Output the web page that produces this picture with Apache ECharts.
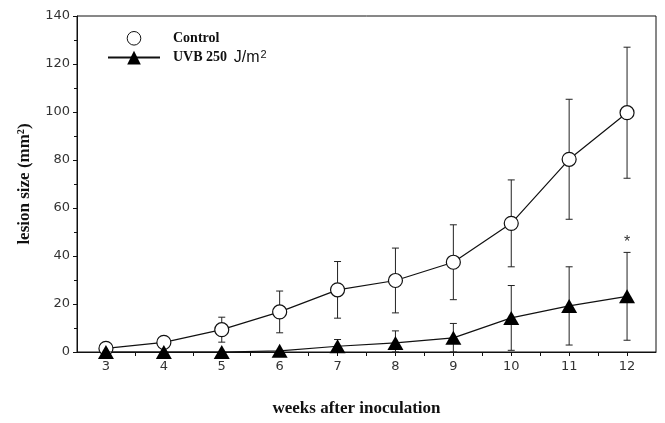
<!DOCTYPE html>
<html>
<head>
<meta charset="utf-8">
<script src="https://cdn.jsdelivr.net/npm/echarts@6/dist/echarts.min.js"></script>
<style>
html,body{margin:0;padding:0;background:#fff;}
#chart{width:665px;height:423px;}
</style>
</head>
<body>
<div id="chart"></div>
<script>
// ---- data ----
var weeks = [3, 4, 5, 6, 7, 8, 9, 10, 11, 12];
var controlMean = [1.5, 4, 9.3, 16.7, 25.9, 29.8, 37.4, 53.6, 80.3, 99.7];
var controlErr  = [0, 0, 5.2, 8.7, 11.8, 13.5, 15.6, 18.1, 25, 27.3];
var uvbMean = [0, 0, 0, 0.5, 2.4, 3.8, 5.9, 14.2, 19.2, 23.2];
var uvbErr  = [0, 0, 0, 0, 2.8, 5, 6, 13.5, 16.3, 18.3];
var uvbNote = ['', '', '', '', '', '', '', '', '', '*'];
var yTicks = [0, 20, 40, 60, 80, 100, 120, 140];
var seriesNames = ['Control', 'UVB 250 J/m²'];

var chart = echarts.init(document.getElementById('chart'), null, {renderer: 'canvas'});

function pairs(x, y) { return x.map(function (v, i) { return [v, y[i]]; }); }
function errData(x, m, e, notes) {
  return x.map(function (v, i) {
    return [v, m[i] - e[i], m[i] + e[i], notes ? notes[i] : ''];
  });
}
function errRender(params, api) {
  var x = api.value(0);
  var lo = api.value(1), hi = api.value(2);
  var note = api.value(3);
  var children = [];
  if (hi > lo) {
    var pLo = api.coord([x, Math.max(lo, 0)]);
    var pHi = api.coord([x, hi]);
    var style = {stroke: '#222', lineWidth: 1};
    children.push({type: 'line', shape: {x1: pLo[0], y1: pLo[1], x2: pHi[0], y2: pHi[1]}, style: style});
    children.push({type: 'line', shape: {x1: pHi[0] - 3.5, y1: pHi[1], x2: pHi[0] + 3.5, y2: pHi[1]}, style: style});
    children.push({type: 'line', shape: {x1: pLo[0] - 3.5, y1: pLo[1], x2: pLo[0] + 3.5, y2: pLo[1]}, style: style});
    if (note) {
      children.push({type: 'text', x: pHi[0], y: pHi[1] - 2,
        style: {text: note, fill: '#333', font: '16px "Liberation Sans", Arial', align: 'center', verticalAlign: 'bottom'}});
    }
  }
  return {type: 'group', children: children};
}

var tickFont = {fontFamily: '"DejaVu Sans", sans-serif', fontSize: 13, color: '#333'};

chart.setOption({
  animation: false,
  backgroundColor: '#fff',
  grid: {left: 77, right: 9, top: 16, bottom: 71, show: true, borderColor: '#111', borderWidth: 1, containLabel: false},
  legend: {
    orient: 'vertical', left: 102, top: 26, itemWidth: 52, itemHeight: 17, itemGap: 4,
    data: [
      {name: seriesNames[0], lineStyle: {width: 0}, itemStyle: {color: '#fff', borderColor: '#111', borderWidth: 1}},
      {name: seriesNames[1]}
    ],
    textStyle: {
      padding: [0, 0, 0, 8],
      rich: {
        b: {fontFamily: '"Liberation Serif", "Times New Roman", serif', fontWeight: 'bold', fontSize: 14, color: '#111'},
        s: {fontFamily: '"Liberation Sans", Arial, sans-serif', fontSize: 16, color: '#111'},
        sup: {fontFamily: '"Liberation Sans", Arial, sans-serif', fontSize: 11, color: '#111', verticalAlign: 'top', lineHeight: 10, padding: [0, 0, 6, 1]}
      }
    },
    formatter: function (name) {
      if (name === seriesNames[0]) return '{b|Control}';
      return '{b|UVB 250}  {s|J/m}{sup|2}';
    }
  },
  xAxis: {
    type: 'value', min: 2.5, max: 12.5, interval: 0.5,
    name: 'weeks after inoculation', nameLocation: 'middle', nameGap: 48,
    nameTextStyle: {fontFamily: '"Liberation Serif", "Times New Roman", serif', fontWeight: 'bold', fontSize: 17, color: '#111', padding: [0, 20, 0, 0]},
    axisLine: {lineStyle: {color: '#111', width: 1}},
    axisTick: {show: true, inside: false, length: 4, lineStyle: {color: '#111'}},
    axisLabel: Object.assign({margin: 8, showMinLabel: false, showMaxLabel: false,
      formatter: function (v) { return weeks.indexOf(v) >= 0 ? String(v) : ''; }}, tickFont),
    splitLine: {show: false}
  },
  yAxis: {
    type: 'value', min: yTicks[0], max: yTicks[yTicks.length - 1], interval: yTicks[1] - yTicks[0],
    name: 'lesion size (mm²)', nameLocation: 'middle', nameGap: 44, nameRotate: 90,
    nameTextStyle: {fontFamily: '"Liberation Serif", "Times New Roman", serif', fontWeight: 'bold', fontSize: 17, color: '#111'},
    axisLine: {show: true, lineStyle: {color: '#111', width: 1}},
    axisTick: {show: true, inside: false, length: 4, lineStyle: {color: '#111'}},
    minorTick: {show: true, splitNumber: 2, length: 3, lineStyle: {color: '#111'}},
    axisLabel: Object.assign({margin: 7}, tickFont),
    splitLine: {show: false}
  },
  series: [
    {
      type: 'custom', name: 'ctrlErr', renderItem: errRender, z: 1, silent: true,
      data: errData(weeks, controlMean, controlErr)
    },
    {
      type: 'custom', name: 'uvbErr', renderItem: errRender, z: 1, silent: true,
      data: errData(weeks, uvbMean, uvbErr, uvbNote)
    },
    {
      type: 'line', name: seriesNames[0], data: pairs(weeks, controlMean), z: 3,
      symbol: 'circle', symbolSize: 14,
      lineStyle: {color: '#111', width: 1.2},
      itemStyle: {color: '#fff', borderColor: '#111', borderWidth: 1.2}
    },
    {
      type: 'line', name: seriesNames[1], data: pairs(weeks, uvbMean), z: 4,
      symbol: 'triangle', symbolSize: [16, 14],
      lineStyle: {color: '#111', width: 1.2},
      itemStyle: {color: '#000', borderColor: '#000', borderWidth: 0}
    }
  ]
});
</script>
</body>
</html>
